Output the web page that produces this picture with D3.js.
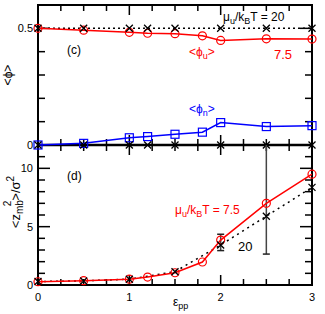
<!DOCTYPE html>
<html><head><meta charset="utf-8">
<script src="https://cdn.jsdelivr.net/npm/d3@7"></script>
<style>body{margin:0;background:#fff}svg{display:block;font-family:"Liberation Sans",Arial,sans-serif}</style>
</head><body>
<svg id="c" width="325" height="314"></svg>
<script>
// ---- data ----
const xTopBlack = [0, 0.5, 1, 1.2, 1.5, 2, 2.5, 3];
const phiU20 = [0.5, 0.5, 0.5, 0.5, 0.5, 0.5, 0.5, 0.5];
const phiN20 = [0, 0, 0, 0, 0, 0, 0, 0];
const xRed = [0, 0.5, 1, 1.2, 1.5, 1.8, 2, 2.5, 3];
const phiU75 = [0.5, 0.492, 0.483, 0.479, 0.477, 0.468, 0.448, 0.455, 0.454];
const phiN75 = [0, 0.007, 0.031, 0.036, 0.046, 0.055, 0.096, 0.079, 0.083];
const zRed = [0.28, 0.37, 0.5, 0.68, 1.05, 1.97, 3.85, 7.0, 9.5];
const xBotBlack = [0, 0.5, 1, 1.5, 2, 2.5, 3];
const zBlack = [0.3, 0.35, 0.5, 1.14, 3.43, 5.9, 8.37];
const errX = [2, 2.5];
const errLo = [2.95, 2.65];
const errHi = [4.35, 12.5];
const xTickLabels = [0, 1, 2, 3];
const yTopLabels = [0, 0.5];
const yBotLabels = [0, 5, 10];

// ---- layout ----
const svg = d3.select("#c");
const L = 38, R = 312, T = 5, M = 145, B = 285;
const x = d3.scaleLinear().domain([0, 3]).range([L, R]);
const yT = d3.scaleLinear().domain([0, 0.6]).range([M, T]);
const yB = d3.scaleLinear().domain([0, 12]).range([B, M]);

svg.append("defs").append("clipPath").attr("id", "cb")
  .append("rect").attr("x", L).attr("y", M).attr("width", R - L).attr("height", B - M);

const ink = svg.append("g");

// ticks
function xTicks(y0, dir) {
  d3.range(0, 3.001, 0.25).forEach(v => {
    const major = Math.abs(v - Math.round(v)) < 1e-6;
    const len = major ? 10 : 6;
    ink.append("line").attr("x1", x(v)).attr("x2", x(v))
      .attr("y1", y0).attr("y2", y0 + dir * len)
      .attr("stroke", "#000").attr("stroke-width", 1.5);
  });
}
xTicks(T, 1); xTicks(M, -1); xTicks(M, 1); xTicks(B, -1);

function yTicks(scale, vals, majors) {
  vals.forEach(v => {
    const major = majors.some(m => Math.abs(m - v) < 1e-6);
    const len = major ? 12 : 7;
    [[L, 1], [R, -1]].forEach(([x0, d]) => {
      ink.append("line").attr("x1", x0).attr("x2", x0 + d * len)
        .attr("y1", scale(v)).attr("y2", scale(v))
        .attr("stroke", "#000").attr("stroke-width", 1.5);
    });
  });
}
yTicks(yT, d3.range(0, 0.601, 0.1), yTopLabels);
yTicks(yB, d3.range(0, 12.01, 1), yBotLabels);

// frame
ink.append("rect").attr("x", L).attr("y", T).attr("width", R - L).attr("height", B - T)
  .attr("fill", "none").attr("stroke", "#000").attr("stroke-width", 2);
ink.append("line").attr("x1", L).attr("x2", R).attr("y1", M).attr("y2", M)
  .attr("stroke", "#000").attr("stroke-width", 2.5);

// tick labels
const tl = svg.append("g").attr("font-size", 11).attr("fill", "#000");
xTickLabels.forEach(v => tl.append("text").attr("x", x(v)).attr("y", 301)
  .attr("text-anchor", "middle").text(v));
yTopLabels.forEach(v => tl.append("text").attr("x", 33).attr("y", yT(v) + 4)
  .attr("text-anchor", "end").text(v));
yBotLabels.forEach(v => tl.append("text").attr("x", 33).attr("y", yB(v) + 4)
  .attr("text-anchor", "end").text(v));

// helpers
function line(xs, ys, sy, color, dash, clip) {
  const g = svg.append("path")
    .datum(xs.map((v, i) => [v, ys[i]]))
    .attr("d", d3.line().x(d => x(d[0])).y(d => sy(d[1])))
    .attr("fill", "none").attr("stroke", color).attr("stroke-width", 1.5);
  if (dash) g.attr("stroke-dasharray", dash);
  if (clip) g.attr("clip-path", "url(#cb)");
}
function crosses(xs, ys, sy) {
  xs.forEach((v, i) => {
    const cx = x(v), cy = sy(ys[i]), s = 3.5;
    svg.append("path").attr("d", `M${cx - s},${cy - s}L${cx + s},${cy + s}M${cx - s},${cy + s}L${cx + s},${cy - s}`)
      .attr("stroke", "#000").attr("stroke-width", 1.3).attr("fill", "none");
  });
}
function circles(xs, ys, sy) {
  xs.forEach((v, i) => svg.append("circle").attr("cx", x(v)).attr("cy", sy(ys[i])).attr("r", 4)
    .attr("fill", "none").attr("stroke", "#f00").attr("stroke-width", 1.2));
}
function squares(xs, ys, sy) {
  xs.forEach((v, i) => svg.append("rect").attr("x", x(v) - 4).attr("y", sy(ys[i]) - 4)
    .attr("width", 8).attr("height", 8)
    .attr("fill", "none").attr("stroke", "#00f").attr("stroke-width", 1.2));
}

// top panel
line(xTopBlack, phiU20, yT, "#000", "2,3");
line(xRed, phiU75, yT, "#f00");
line(xRed, phiN75, yT, "#00f");
circles(xRed, phiU75, yT);
squares(xRed, phiN75, yT);
crosses(xTopBlack, phiU20, yT);
crosses(xTopBlack, phiN20, yT);

// bottom panel
const eg = svg.append("g").attr("clip-path", "url(#cb)");
errX.forEach((v, i) => {
  const cx = x(v);
  eg.append("line").attr("x1", cx).attr("x2", cx).attr("y1", yB(errLo[i])).attr("y2", yB(errHi[i]))
    .attr("stroke", "#444").attr("stroke-width", 1.5);
  [errLo[i], errHi[i]].forEach(e => eg.append("line").attr("x1", cx - 3.5).attr("x2", cx + 3.5)
    .attr("y1", yB(e)).attr("y2", yB(e)).attr("stroke", "#222").attr("stroke-width", 1.5));
});
line(xBotBlack, zBlack, yB, "#000", "2,4", true);
line(xRed, zRed, yB, "#f00", null, true);
circles(xRed, zRed, yB);
crosses(xBotBlack, zBlack, yB);

// annotations
const an = svg.append("g").attr("font-size", 12);
an.append("text").attr("x", 67).attr("y", 54).text("(c)");
an.append("text").attr("x", 67).attr("y", 180).text("(d)");

const t1 = an.append("text").attr("x", 223).attr("y", 21).attr("fill", "#000");
t1.append("tspan").text("μ");
t1.append("tspan").attr("font-size", 9).attr("dy", 3).text("u");
t1.append("tspan").attr("dy", -3).text("/k");
t1.append("tspan").attr("font-size", 9).attr("dy", 3).text("B");
t1.append("tspan").attr("dy", -3).text("T = 20");

const t2 = an.append("text").attr("x", 189).attr("y", 56).attr("fill", "#f00");
t2.append("tspan").text("<ϕ");
t2.append("tspan").attr("font-size", 9).attr("dy", 3).text("u");
t2.append("tspan").attr("dy", -3).text(">");

an.append("text").attr("x", 274).attr("y", 59).attr("fill", "#f00").attr("font-size", 13).text("7.5");

const t3 = an.append("text").attr("x", 189).attr("y", 113).attr("fill", "#00f");
t3.append("tspan").text("<ϕ");
t3.append("tspan").attr("font-size", 9).attr("dy", 3).text("n");
t3.append("tspan").attr("dy", -3).text(">");

const t4 = an.append("text").attr("x", 175).attr("y", 214).attr("fill", "#f00");
t4.append("tspan").text("μ");
t4.append("tspan").attr("font-size", 9).attr("dy", 3).text("u");
t4.append("tspan").attr("dy", -3).text("/k");
t4.append("tspan").attr("font-size", 9).attr("dy", 3).text("B");
t4.append("tspan").attr("dy", -3).text("T = 7.5");

an.append("text").attr("x", 238).attr("y", 251).attr("fill", "#000").attr("font-size", 13).text("20");

// axis titles
const xl = svg.append("text").attr("x", 173).attr("y", 306).attr("font-size", 12);
xl.append("tspan").text("ε");
xl.append("tspan").attr("font-size", 9).attr("dy", 3).text("pp");

svg.append("text").attr("transform", "translate(12,75) rotate(-90)").attr("text-anchor", "middle")
  .attr("font-size", 12).text("<ϕ>");

const yl = svg.append("text").attr("transform", "translate(20,202) rotate(-90)").attr("text-anchor", "middle")
  .attr("font-size", 13);
yl.append("tspan").text("<z");
yl.append("tspan").attr("font-size", 10).attr("dy", 3).text("mb");
yl.append("tspan").attr("font-size", 10).attr("dx", -6).attr("dy", -12).text("2");
yl.append("tspan").attr("dy", 9).text(">/σ");
yl.append("tspan").attr("font-size", 10).attr("dy", -6).text("2");
</script>
</body></html>
